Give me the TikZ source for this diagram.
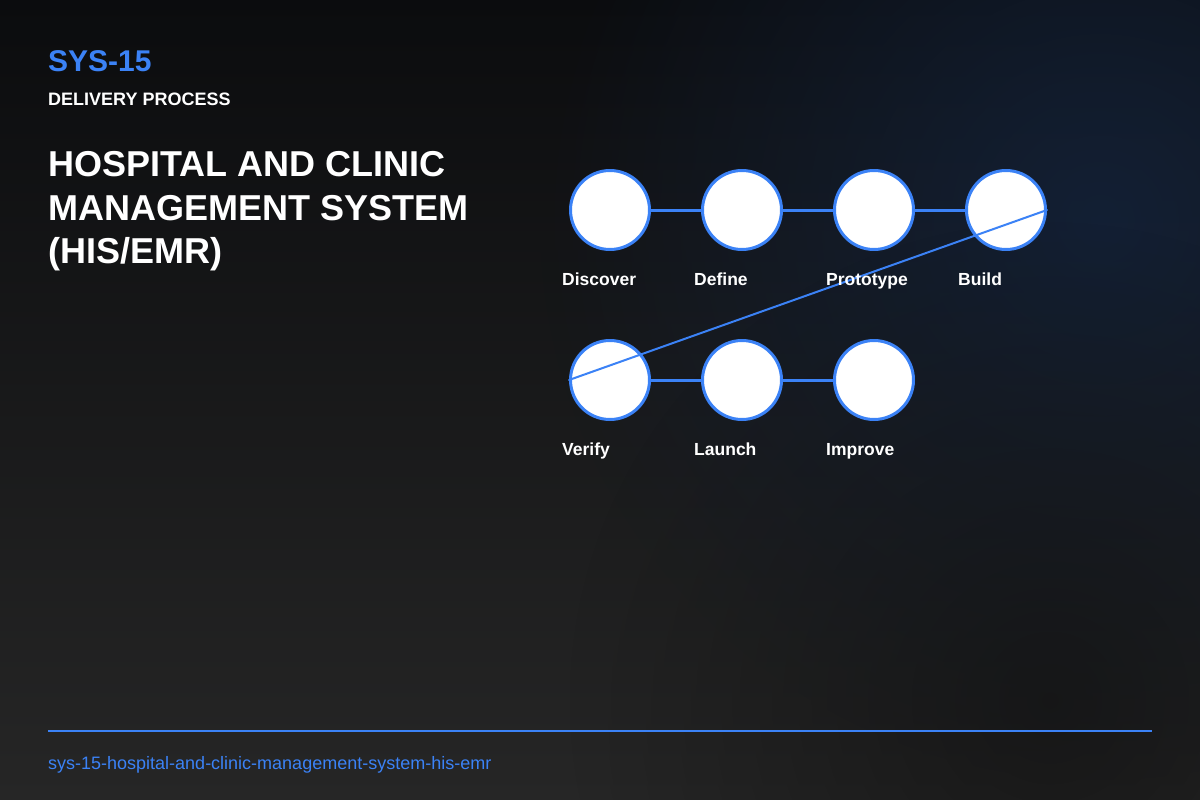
\documentclass[tikz,border=0pt]{standalone}
\usepackage{fontspec}
\setmainfont{Liberation Sans}
\usetikzlibrary{positioning,fadings}
\definecolor{accent}{HTML}{3B82F6}
\definecolor{bgtop}{HTML}{0B0C0E}
\definecolor{bgbot}{HTML}{262626}
\definecolor{bgblue}{HTML}{13223A}
\definecolor{bgdark}{HTML}{121212}
\tikzfading[name=glow, inner color=transparent!0, outer color=transparent!100]
\tikzset{
  stage/.style={circle, draw=accent, line width=3pt, fill=white, minimum size=79pt, inner sep=0pt},
  stagelabel/.style={anchor=base west, inner sep=0pt, text=white, font=\fontsize{17.5}{20}\selectfont\bfseries},
  link/.style={draw=accent, line width=3pt}
}
\begin{document}
\begin{tikzpicture}[x=1pt, y=-1pt, line join=round, line cap=round]
	\useasboundingbox (0,0) rectangle (1200,800);
	% background
	\shade[top color=bgtop, bottom color=bgbot] (0,0) rectangle (1200,800);
	\fill[bgblue, path fading=glow, opacity=0.85] (1100,220) circle (560);
	\fill[bgdark, path fading=glow, opacity=0.7] (1050,700) circle (480);
	% heading
	\node[anchor=base west, inner sep=0pt, text=accent, font=\fontsize{30}{36}\selectfont\bfseries] (code) at (48,72) {SYS-15};
	\node[anchor=base west, inner sep=0pt, text=white, font=\fontsize{18}{22}\selectfont\bfseries] (kind) at (48,105) {DELIVERY PROCESS};
	\node[anchor=north west, inner sep=0pt, text=white, align=left, font=\fontsize{36}{43.2}\selectfont\bfseries] (title) at (48,151.5) {HOSPITAL AND CLINIC\\MANAGEMENT SYSTEM\\(HIS/EMR)};
	% stages
	\node[stage] (discover) at (610,210) {};
	\node[stage] (define) at (742,210) {};
	\node[stage] (prototype) at (874,210) {};
	\node[stage] (build) at (1006,210) {};
	\node[stage] (verify) at (610,380) {};
	\node[stage] (launch) at (742,380) {};
	\node[stage] (improve) at (874,380) {};
	\draw[link] (discover) -- (define);
	\draw[link] (define) -- (prototype);
	\draw[link] (prototype) -- (build);
	\draw[link] (verify) -- (launch);
	\draw[link] (launch) -- (improve);
	\draw[accent, line width=2pt] (build.east) -- (verify.west);
	\node[stagelabel] (discoverlbl) at (562,285) {Discover};
	\node[stagelabel] (definelbl) at (694,285) {Define};
	\node[stagelabel] (prototypelbl) at (826,285) {Prototype};
	\node[stagelabel] (buildlbl) at (958,285) {Build};
	\node[stagelabel] (verifylbl) at (562,455) {Verify};
	\node[stagelabel] (launchlbl) at (694,455) {Launch};
	\node[stagelabel] (improvelbl) at (826,455) {Improve};
	% footer
	\coordinate (ruleleft) at (48,731);
	\coordinate (ruleright) at (1152,731);
	\draw[accent, line width=2pt, line cap=butt] (ruleleft) -- (ruleright);
	\node[anchor=base west, inner sep=0pt, text=accent, font=\fontsize{18}{21}\selectfont] (slug) at (48,769) {sys-15-hospital-and-clinic-management-system-his-emr};
\end{tikzpicture}
\end{document}
